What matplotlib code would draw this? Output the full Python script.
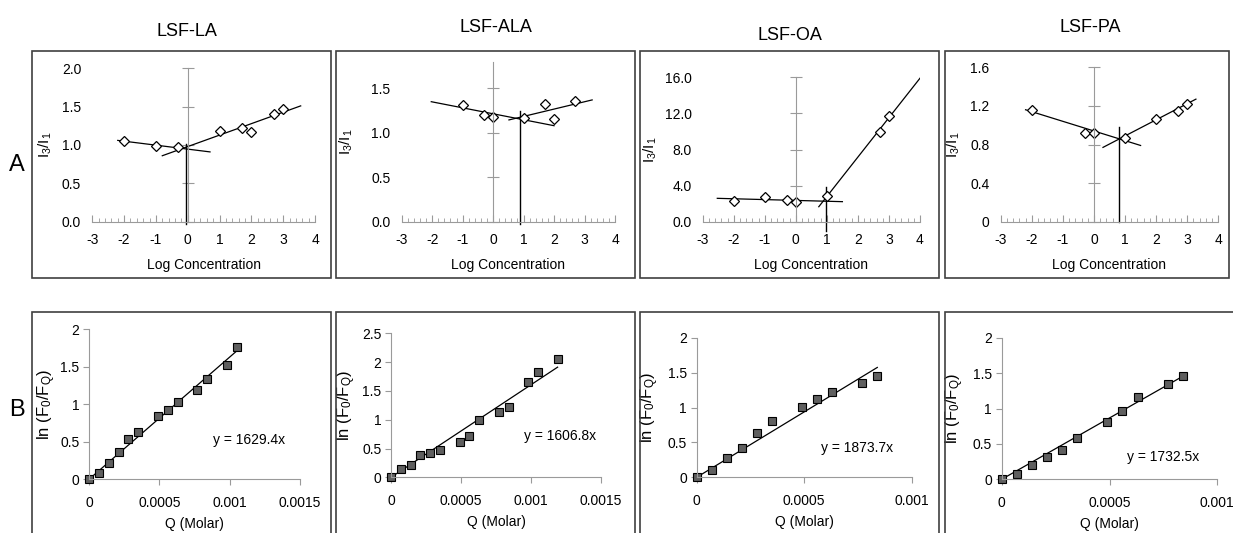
import numpy as np
import matplotlib
matplotlib.use('Agg')
import matplotlib.pyplot as plt
from matplotlib.patches import Rectangle
from matplotlib.ticker import MultipleLocator

plt.rcParams['font.family'] = ['Liberation Sans', 'DejaVu Sans']
plt.rcParams['mathtext.default'] = 'regular'
plt.rcParams['axes.unicode_minus'] = False

# ---- data: row A (I3/I1 vs log concentration) ----
names = ['LSF-LA', 'LSF-ALA', 'LSF-OA', 'LSF-PA']

la_x = [-2, -1, -0.3, 1, 1.7, 2, 2.7, 3]
la_y = [1.05, 0.99, 0.97, 1.18, 1.22, 1.17, 1.40, 1.47]
ala_x = [-1, -0.3, 0, 1, 1.7, 2, 2.7]
ala_y = [1.31, 1.20, 1.18, 1.17, 1.32, 1.15, 1.36]
oa_x = [-2, -1, -0.3, 0, 1, 2.7, 3]
oa_y = [2.33, 2.77, 2.40, 2.20, 2.85, 9.98, 11.75]
pa_x = [-2, -0.3, 0, 1, 2, 2.7, 3]
pa_y = [1.16, 0.92, 0.92, 0.87, 1.06, 1.15, 1.22]

# trend lines (start/end) and the break point (cmc)
la_fit1 = ([-2.2, 0.7], [1.06, 0.91]);  la_fit2 = ([-0.8, 3.55], [0.86, 1.51])
ala_fit1 = ([-2.03, 2.0], [1.35, 1.08]); ala_fit2 = ([0.52, 3.25], [1.145, 1.37])
oa_fit1 = ([-2.53, 1.5], [2.59, 2.22]);  oa_fit2 = ([0.74, 4.0], [1.66, 15.9])
pa_fit1 = ([-2.2, 1.5], [1.16, 0.79]);   pa_fit2 = ([0.29, 3.28], [0.77, 1.27])
cmc_x = [-0.07, 0.87, 0.98, 0.81]
cmc_y = [(-0.03, 1.01), (-0.03, 1.25), (-1.0, 3.9), (0.0, 0.98)]

a_ymax = [2.0, 1.8, 16.0, 1.6]
a_yticks = [[0, 0.5, 1.0, 1.5, 2.0], [0, 0.5, 1.0, 1.5],
            [0, 4, 8, 12, 16], [0, 0.4, 0.8, 1.2, 1.6]]
a_ylabels = [['0.0', '0.5', '1.0', '1.5', '2.0'], ['0.0', '0.5', '1.0', '1.5'],
             ['0.0', '4.0', '8.0', '12.0', '16.0'], ['0', '0.4', '0.8', '1.2', '1.6']]

# ---- data: row B (Stern-Volmer type plots) ----
q = [0, 7e-5, 1.4e-4, 2.1e-4, 2.8e-4, 3.5e-4, 4.9e-4, 5.6e-4, 6.3e-4,
     7.7e-4, 8.4e-4, 9.8e-4, 1.05e-3, 1.19e-3]
b_la = [0, 0.09, 0.22, 0.36, 0.54, 0.63, 0.84, 0.92, 1.03, 1.19, 1.34, 1.53, 1.76]
b_ala = [0, 0.145, 0.21, 0.38, 0.42, 0.47, 0.62, 0.71, 1.0, 1.14, 1.22, 1.66, 1.83, 2.06]
b_oa = [0, 0.105, 0.27, 0.42, 0.63, 0.80, 1.01, 1.12, 1.22, 1.35, 1.45]
b_pa = [0, 0.075, 0.20, 0.31, 0.42, 0.59, 0.81, 0.97, 1.16, 1.35, 1.46]
slopes = [1629.4, 1606.8, 1873.7, 1732.5]
b_xmax = [0.0015, 0.0015, 0.001, 0.001]
b_xticks = [[0, 0.0005, 0.001, 0.0015], [0, 0.0005, 0.001, 0.0015],
            [0, 0.0005, 0.001], [0, 0.0005, 0.001]]
b_xlabels = [['0', '0.0005', '0.001', '0.0015'], ['0', '0.0005', '0.001', '0.0015'],
             ['0', '0.0005', '0.001'], ['0', '0.0005', '0.001']]
b_ymax = [2, 2.5, 2, 2]
b_yticks = [[0, 0.5, 1, 1.5, 2], [0, 0.5, 1, 1.5, 2, 2.5], [0, 0.5, 1, 1.5, 2], [0, 0.5, 1, 1.5, 2]]
b_ylabels = [['0', '0.5', '1', '1.5', '2'], ['0', '0.5', '1', '1.5', '2', '2.5'],
             ['0', '0.5', '1', '1.5', '2'], ['0', '0.5', '1', '1.5', '2']]
eq_pos = [(0.00114, 0.53), (0.00121, 0.71), (0.000744, 0.415), (0.00075, 0.32)]

W, H = 1233, 533
fig = plt.figure(figsize=(W / 100, H / 100), dpi=100)


def rect(l, r, t, b):
    return [l / W, 1 - b / H, (r - l) / W, (b - t) / H]


gray = '#9a9a9a'

# panel frames
for (l, r) in [(32, 331), (336, 635), (640, 939), (945, 1229)]:
    fig.add_artist(Rectangle((l / W, 1 - 278 / H), (r - l) / W, 227 / H, fill=False,
                             ec='#404040', lw=1.2, transform=fig.transFigure))
for (l, r) in [(32, 331), (336, 635), (640, 939), (945, 1245)]:
    fig.add_artist(Rectangle((l / W, 1 - 545 / H), (r - l) / W, 233 / H, fill=False,
                             ec='#404040', lw=1.2, transform=fig.transFigure))

title_pos = [(187, 32), (496, 27), (790, 35), (1090, 27)]
for nm, (tx, ty) in zip(names, title_pos):
    fig.text(tx / W, 1 - ty / H, nm, ha='center', va='center', fontsize=13)
fig.text(17 / W, 1 - 165 / H, 'A', ha='center', va='center', fontsize=17)
fig.text(17 / W, 1 - 410 / H, 'B', ha='center', va='center', fontsize=17)

# ---- row A ----
a_rects = [rect(92.3, 315, 68.3, 221.7), rect(401.7, 615, 61.7, 221.7),
           rect(702.7, 920, 77.3, 221.7), rect(1000.7, 1218.3, 67.3, 221.7)]
a_data = [(la_x, la_y, la_fit1, la_fit2), (ala_x, ala_y, ala_fit1, ala_fit2),
          (oa_x, oa_y, oa_fit1, oa_fit2), (pa_x, pa_y, pa_fit1, pa_fit2)]
a_lab_x = [-0.172, -0.219, -0.203, -0.178]

for i in range(4):
    xs, ys, f1, f2 = a_data[i]
    ax = fig.add_axes(a_rects[i])
    ax.patch.set_alpha(0)
    ax.set_xlim(-3, 4)
    ax.set_ylim(0, a_ymax[i])
    for s in ['top', 'right']:
        ax.spines[s].set_visible(False)
    ax.spines['left'].set_position(('data', 0))
    ax.spines['left'].set_color(gray)
    ax.spines['bottom'].set_color(gray)
    ax.set_yticks(a_yticks[i])
    ax.tick_params(axis='y', direction='inout', length=8, color=gray, labelleft=False)
    ax.set_xticks(range(-3, 5))
    ax.xaxis.set_minor_locator(MultipleLocator(0.2))
    ax.tick_params(axis='x', which='major', direction='in', length=5, color=gray,
                   labelsize=10, pad=8)
    ax.tick_params(axis='x', which='minor', direction='in', length=3, color=gray)
    ax.set_xlabel('Log Concentration', fontsize=10, labelpad=8)

    ax.plot(f1[0], f1[1], color='black', lw=0.9)
    ax.plot(f2[0], f2[1], color='black', lw=0.9)
    ax.plot([cmc_x[i], cmc_x[i]], cmc_y[i], color='black', lw=1, clip_on=False)
    ax.plot(xs, ys, ls='none', marker='D', ms=5.5, mfc='white', mec='black', mew=0.9)

    lab = ax.twinx()
    lab.yaxis.tick_left()
    lab.yaxis.set_label_position('left')
    lab.set_ylim(0, a_ymax[i])
    lab.set_yticks(a_yticks[i], a_ylabels[i])
    lab.tick_params(axis='y', length=0, labelsize=10, pad=8)
    for s in lab.spines.values():
        s.set_visible(False)
    lab.set_ylabel('I$_3$/I$_1$', fontsize=11)
    lab.yaxis.set_label_coords(a_lab_x[i], 0.5)

# ---- row B ----
b_rects = [rect(89, 300, 329.3, 479.3), rect(391, 601, 333.3, 477.3),
           rect(696.7, 911.7, 337.7, 477.3), rect(1001.7, 1217.3, 337.7, 479.3)]
b_data = [b_la, b_ala, b_oa, b_pa]
b_lab_x = [-0.147, -0.157, -0.166, -0.166]

for i in range(4):
    ys = b_data[i]
    xs = q[:len(ys)]
    ax = fig.add_axes(b_rects[i])
    ax.patch.set_alpha(0)
    ax.set_xlim(0, b_xmax[i])
    ax.set_ylim(0, b_ymax[i])
    for s in ['top', 'right']:
        ax.spines[s].set_visible(False)
    ax.spines['left'].set_color(gray)
    ax.spines['bottom'].set_color(gray)
    ax.set_xticks(b_xticks[i], b_xlabels[i])
    ax.set_yticks(b_yticks[i], b_ylabels[i])
    ax.tick_params(direction='out', length=4, color=gray, labelsize=10)
    ax.tick_params(axis='y', pad=3)
    ax.tick_params(axis='x', pad=8)
    ax.set_xlabel('Q (Molar)', fontsize=10, labelpad=5)
    ax.set_ylabel('ln (F$_0$/F$_Q$)', fontsize=12)
    ax.yaxis.set_label_coords(b_lab_x[i], 0.5)

    fx = np.array([0, xs[-1]])
    ax.plot(fx, slopes[i] * fx, color='black', lw=0.9)
    ax.plot(xs, ys, ls='none', marker='s', ms=6, mfc='#5f5f5f', mec='black',
            mew=0.8, clip_on=False)
    ax.text(eq_pos[i][0], eq_pos[i][1], f'y = {slopes[i]}x', ha='center', va='center',
            fontsize=10)

fig.savefig('out.png', dpi=100)
